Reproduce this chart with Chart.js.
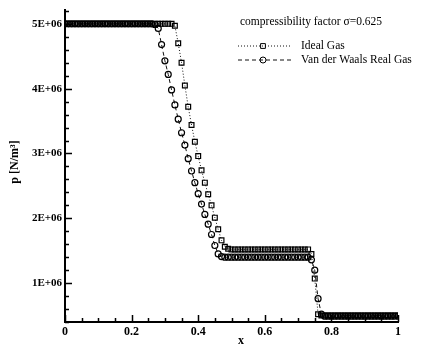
<!DOCTYPE html>
<html>
<head>
<meta charset="utf-8">
<script src="https://cdn.jsdelivr.net/npm/chart.js@4/dist/chart.umd.min.js"></script>
<style>
  html, body { margin: 0; padding: 0; background: #fff; }
  #wrap { width: 421px; height: 347px; }
</style>
</head>
<body>
<div id="wrap"><canvas id="chart" width="421" height="347"></canvas></div>
<script>
// grid positions (x)
const xs = [
  0.00, 0.01, 0.02, 0.03, 0.04, 0.05, 0.06, 0.07, 0.08, 0.09,
  0.10, 0.11, 0.12, 0.13, 0.14, 0.15, 0.16, 0.17, 0.18, 0.19,
  0.20, 0.21, 0.22, 0.23, 0.24, 0.25, 0.26, 0.27, 0.28, 0.29,
  0.30, 0.31, 0.32, 0.33, 0.34, 0.35, 0.36, 0.37, 0.38, 0.39,
  0.40, 0.41, 0.42, 0.43, 0.44, 0.45, 0.46, 0.47, 0.48, 0.49,
  0.50, 0.51, 0.52, 0.53, 0.54, 0.55, 0.56, 0.57, 0.58, 0.59,
  0.60, 0.61, 0.62, 0.63, 0.64, 0.65, 0.66, 0.67, 0.68, 0.69,
  0.70, 0.71, 0.72, 0.73, 0.74, 0.75, 0.76, 0.77, 0.78, 0.79,
  0.80, 0.81, 0.82, 0.83, 0.84, 0.85, 0.86, 0.87, 0.88, 0.89,
  0.90, 0.91, 0.92, 0.93, 0.94, 0.95, 0.96, 0.97, 0.98, 0.99,
  1.00
];

// pressure, ideal gas
const idealGas = [
  5.0e6, 5.0e6, 5.0e6, 5.0e6, 5.0e6, 5.0e6, 5.0e6, 5.0e6, 5.0e6, 5.0e6,
  5.0e6, 5.0e6, 5.0e6, 5.0e6, 5.0e6, 5.0e6, 5.0e6, 5.0e6, 5.0e6, 5.0e6,
  5.0e6, 5.0e6, 5.0e6, 5.0e6, 5.0e6, 5.0e6, 5.0e6, 5.0e6, 5.0e6, 5.0e6,
  5.0e6, 5.0e6, 5.0e6, 4.97e6, 4.70e6, 4.40e6, 4.05e6, 3.72e6, 3.44e6, 3.18e6,
  2.96e6, 2.74e6, 2.55e6, 2.37e6, 2.20e6, 2.01e6, 1.83e6, 1.66e6, 1.56e6, 1.53e6,
  1.52e6, 1.52e6, 1.52e6, 1.52e6, 1.52e6, 1.52e6, 1.52e6, 1.52e6, 1.52e6, 1.52e6,
  1.52e6, 1.52e6, 1.52e6, 1.52e6, 1.52e6, 1.52e6, 1.52e6, 1.52e6, 1.52e6, 1.52e6,
  1.52e6, 1.52e6, 1.52e6, 1.52e6, 1.45e6, 1.07e6, 0.52e6, 0.50e6, 0.50e6, 0.50e6,
  0.50e6, 0.50e6, 0.50e6, 0.50e6, 0.50e6, 0.50e6, 0.50e6, 0.50e6, 0.50e6, 0.50e6,
  0.50e6, 0.50e6, 0.50e6, 0.50e6, 0.50e6, 0.50e6, 0.50e6, 0.50e6, 0.50e6, 0.50e6,
  0.50e6
];

// pressure, van der waals real gas
const realGas = [
  5.0e6, 5.0e6, 5.0e6, 5.0e6, 5.0e6, 5.0e6, 5.0e6, 5.0e6, 5.0e6, 5.0e6,
  5.0e6, 5.0e6, 5.0e6, 5.0e6, 5.0e6, 5.0e6, 5.0e6, 5.0e6, 5.0e6, 5.0e6,
  5.0e6, 5.0e6, 5.0e6, 5.0e6, 5.0e6, 5.0e6, 5.0e6, 4.99e6, 4.93e6, 4.68e6,
  4.43e6, 4.22e6, 3.98e6, 3.75e6, 3.53e6, 3.32e6, 3.13e6, 2.92e6, 2.73e6, 2.55e6,
  2.38e6, 2.22e6, 2.06e6, 1.91e6, 1.75e6, 1.58e6, 1.45e6, 1.41e6, 1.40e6, 1.40e6,
  1.40e6, 1.40e6, 1.40e6, 1.40e6, 1.40e6, 1.40e6, 1.40e6, 1.40e6, 1.40e6, 1.40e6,
  1.40e6, 1.40e6, 1.40e6, 1.40e6, 1.40e6, 1.40e6, 1.40e6, 1.40e6, 1.40e6, 1.40e6,
  1.40e6, 1.40e6, 1.40e6, 1.40e6, 1.36e6, 1.20e6, 0.76e6, 0.52e6, 0.49e6, 0.49e6,
  0.49e6, 0.49e6, 0.49e6, 0.49e6, 0.49e6, 0.49e6, 0.49e6, 0.49e6, 0.49e6, 0.49e6,
  0.49e6, 0.49e6, 0.49e6, 0.49e6, 0.49e6, 0.49e6, 0.49e6, 0.49e6, 0.49e6, 0.49e6,
  0.49e6
];

const xTicks = [0, 0.2, 0.4, 0.6, 0.8, 1];
const xTickLabels = ['0', '0.2', '0.4', '0.6', '0.8', '1'];
const yTicks = [1e6, 2e6, 3e6, 4e6, 5e6];
const yTickLabels = ['1E+06', '2E+06', '3E+06', '4E+06', '5E+06'];

const legendTitle = 'compressibility factor \u03c3=0.625';
const FONT = '"Liberation Serif", "Times New Roman", serif';

// inward major/minor ticks, axis titles
const axisDecor = {
  id: 'axisDecor',
  afterDraw(chart) {
    const { ctx, chartArea: a, scales: { x, y } } = chart;
    ctx.save();
    ctx.strokeStyle = '#000';
    ctx.lineWidth = 1.5;
    ctx.beginPath();
    for (let i = 0; i <= 20; i++) {
      const px = Math.round(x.getPixelForValue(i * 0.05)) + 0.5;
      const len = i % 4 === 0 ? 7 : 4;
      ctx.moveTo(px, a.bottom);
      ctx.lineTo(px, a.bottom - len);
    }
    for (let v = 0.4e6; v <= 5.2e6 + 1; v += 0.2e6) {
      const py = Math.round(y.getPixelForValue(v)) + 0.5;
      const major = Math.abs(v / 1e6 - Math.round(v / 1e6)) < 1e-6;
      ctx.moveTo(a.left, py);
      ctx.lineTo(a.left + (major ? 7 : 4), py);
    }
    ctx.stroke();

    ctx.fillStyle = '#000';
    ctx.font = 'bold 12px ' + FONT;
    ctx.textAlign = 'center';
    ctx.textBaseline = 'middle';
    ctx.fillText('x', 241, 341);

    ctx.translate(15, 162);
    ctx.rotate(-Math.PI / 2);
    ctx.fillText('p [N/m\u00b3]', 0, 0);
    ctx.restore();
  }
};

// legend drawn inside the plot, upper right
const insideLegend = {
  id: 'insideLegend',
  afterDraw(chart) {
    const ctx = chart.ctx;
    ctx.save();
    ctx.fillStyle = '#000';
    ctx.font = '11.5px ' + FONT;
    ctx.textAlign = 'left';
    ctx.textBaseline = 'middle';
    ctx.fillText(legendTitle, 240, 22);

    const rows = [46, 60];
    chart.data.datasets.forEach((ds, i) => {
      const yy = rows[i];
      ctx.save();
      ctx.strokeStyle = ds.borderColor;
      ctx.lineWidth = ds.borderWidth;
      ctx.setLineDash(ds.borderDash);
      ctx.beginPath();
      ctx.moveTo(238, yy);
      ctx.lineTo(292, yy);
      ctx.stroke();
      ctx.setLineDash([]);
      ctx.strokeStyle = ds.pointBorderColor;
      ctx.fillStyle = 'rgba(255,255,255,0)';
      Chart.helpers.drawPoint(ctx, {
        pointStyle: ds.pointStyle, rotation: 0,
        radius: ds.pointRadius, borderWidth: ds.pointBorderWidth
      }, 263, yy);
      ctx.restore();
      ctx.fillText(ds.label, 301, yy);
    });
    ctx.restore();
  }
};

const ctx = document.getElementById('chart').getContext('2d');
new Chart(ctx, {
  type: 'line',
  data: {
    datasets: [
      {
        label: 'Ideal Gas',
        data: xs.map((x, i) => ({ x: x, y: idealGas[i] })),
        borderColor: '#111',
        borderWidth: 1,
        borderDash: [1, 2],
        pointStyle: 'rect',
        pointRadius: 3.4,
        pointBorderWidth: 1.2,
        pointBorderColor: '#000',
        pointBackgroundColor: 'rgba(255,255,255,0)',
        tension: 0
      },
      {
        label: 'Van der Waals Real Gas',
        data: xs.map((x, i) => ({ x: x, y: realGas[i] })),
        borderColor: '#111',
        borderWidth: 1,
        borderDash: [4, 3],
        pointStyle: 'circle',
        pointRadius: 3,
        pointBorderWidth: 1.2,
        pointBorderColor: '#000',
        pointBackgroundColor: 'rgba(255,255,255,0)',
        tension: 0
      }
    ]
  },
  options: {
    responsive: false,
    animation: false,
    layout: { padding: { top: 7, right: 23, left: 0, bottom: 0 } },
    plugins: {
      legend: { display: false },
      tooltip: { enabled: false }
    },
    scales: {
      x: {
        type: 'linear',
        min: 0,
        max: 1,
        afterBuildTicks: (s) => { s.ticks = xTicks.map(v => ({ value: v })); },
        afterFit: (s) => { s.height = 25; },
        ticks: {
          callback: (v, i) => xTickLabels[i],
          autoSkip: false,
          maxRotation: 0,
          padding: 3,
          color: '#000',
          font: { family: FONT, size: 12, weight: 'bold' }
        },
        grid: { display: false, drawTicks: false },
        border: { display: true, color: '#000', width: 2 }
      },
      y: {
        type: 'linear',
        min: 0.4e6,
        max: 5.22e6,
        afterBuildTicks: (s) => { s.ticks = yTicks.map(v => ({ value: v })); },
        afterFit: (s) => { s.width = 65; },
        ticks: {
          callback: (v, i) => yTickLabels[i],
          autoSkip: false,
          padding: 3,
          color: '#000',
          font: { family: FONT, size: 11, weight: 'bold' }
        },
        grid: { display: false, drawTicks: false },
        border: { display: true, color: '#000', width: 2 }
      }
    }
  },
  plugins: [axisDecor, insideLegend]
});
</script>
</body>
</html>
